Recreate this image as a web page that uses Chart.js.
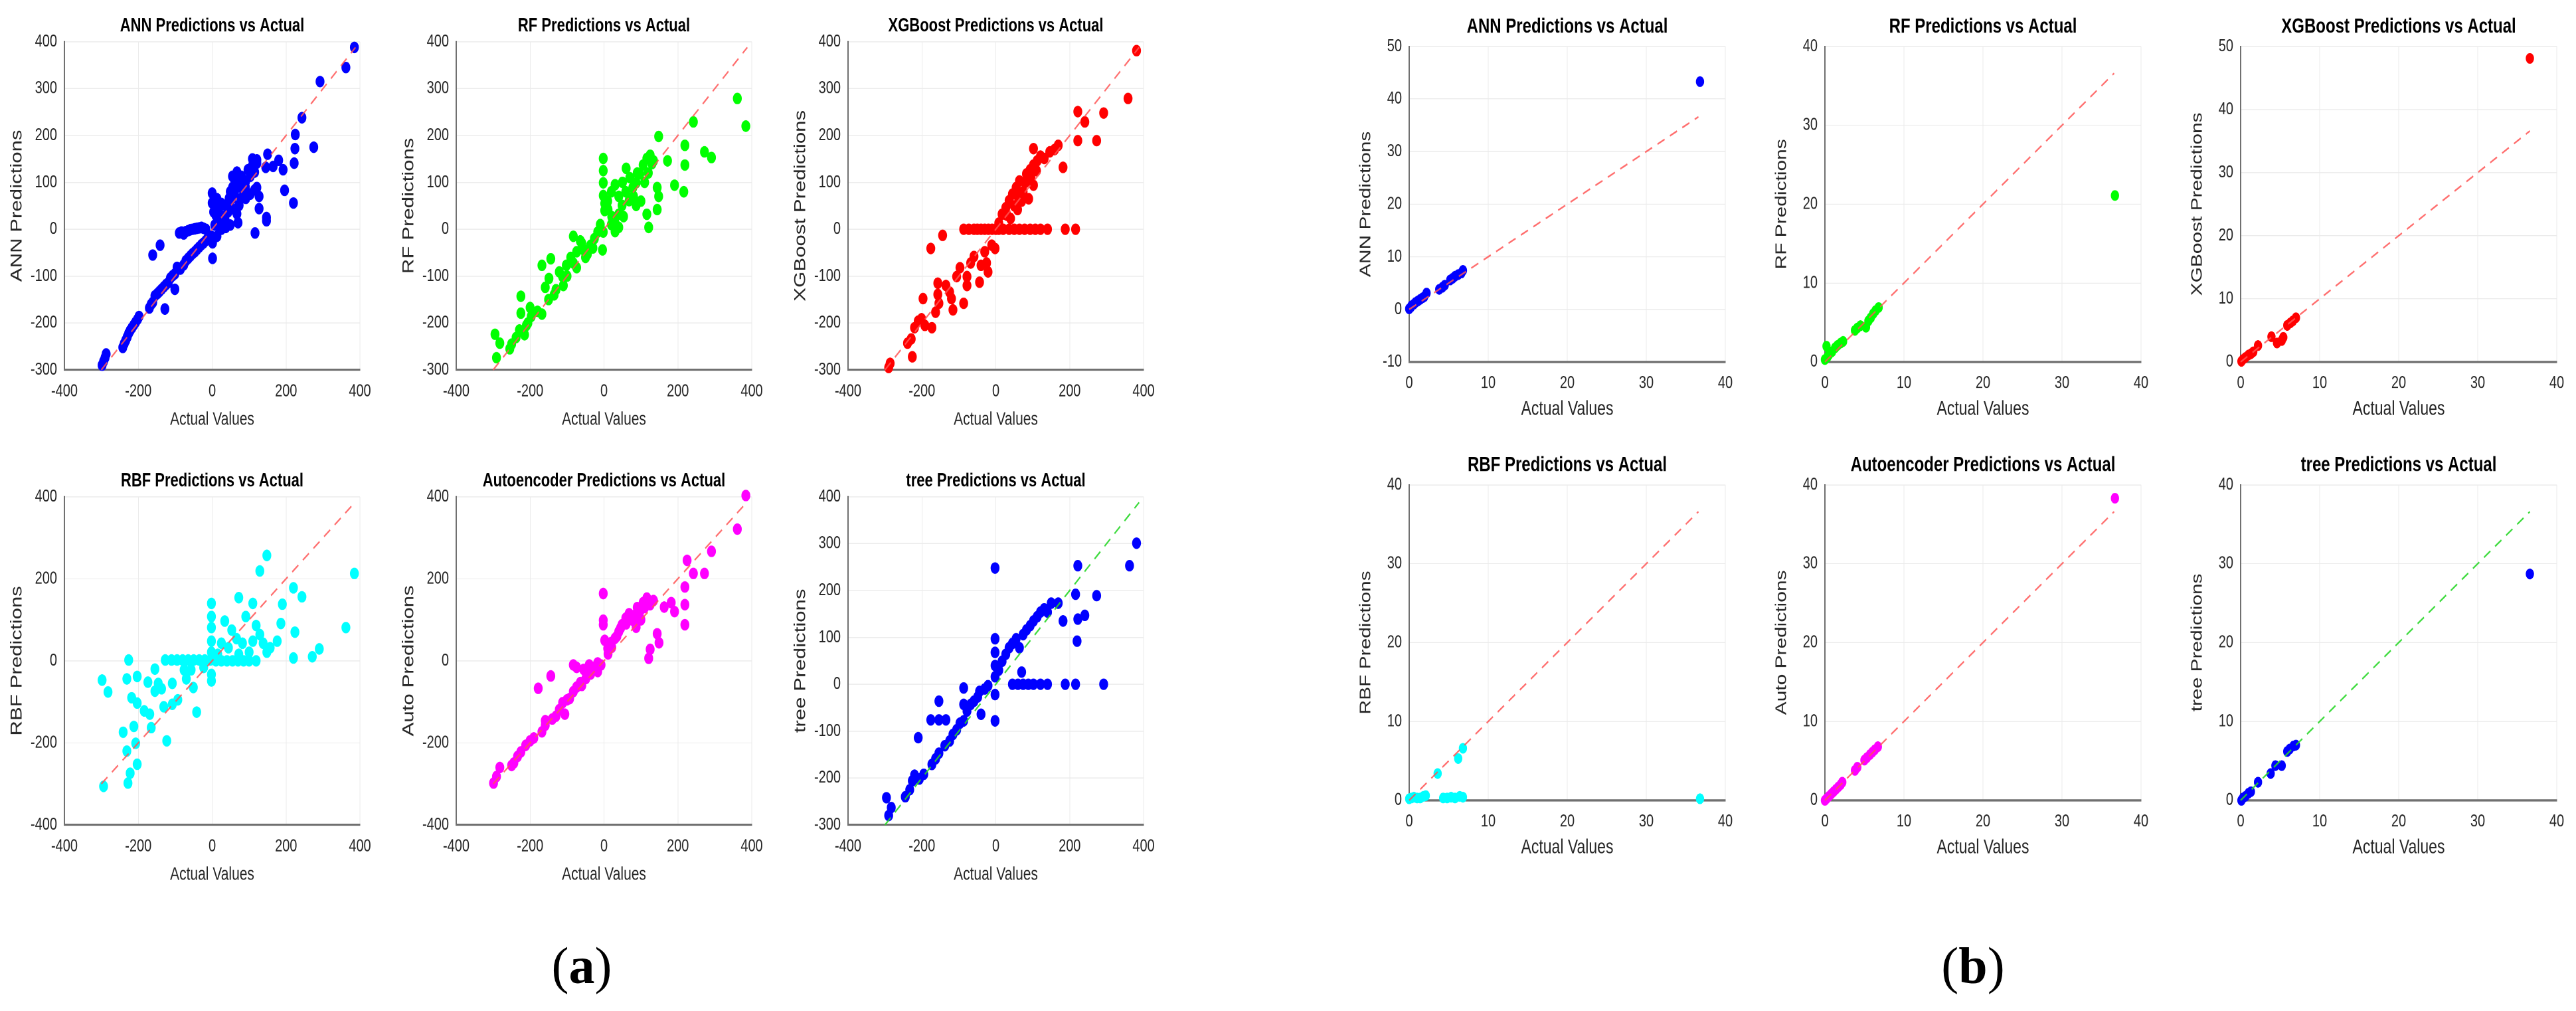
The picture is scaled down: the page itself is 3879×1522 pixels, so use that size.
<!DOCTYPE html>
<html>
<head>
<meta charset="utf-8">
<script src="https://cdn.jsdelivr.net/npm/chart.js@4.4.1/dist/chart.umd.min.js"></script>
<style>
  body { margin: 0; background: #fff; width: 3879px; height: 1522px; position: relative; overflow: hidden; }
  .panel { position: absolute; transform-origin: 0 0; transform: scaleY(1.3); }
  .panel canvas { display: block; }
  .tag { position: absolute; font-family: "Liberation Serif", "Times New Roman", serif; font-size: 78px; line-height: 1; transform: translateX(-50%); color: #000; }
</style>
</head>
<body>
<div class="tag" style="left:876px;top:1415px">(<b>a</b>)</div>
<div class="tag" style="left:2971px;top:1415px">(<b>b</b>)</div>
<script>
// Data (a) ====================================================
const annA = [[-298,-290],[-294,-282],[-290,-274],[-287,-266],
  [-242,-252],[-238,-244],[-234,-237],[-230,-230],[-226,-222],[-222,-216],[-217,-210],[-212,-204],[-207,-198],[-202,-192],[-198,-186],
  [-170,-168],[-165,-160],[-161,-156],[-155,-142],[-148,-137],[-143,-133],[-137,-128],[-131,-123],[-125,-118],[-119,-114],
  [-113,-104],[-107,-99],[-101,-95],[-95,-81],[-86,-85],[-77,-76],[-71,-67],[-65,-62],[-59,-57],[-53,-52],[-47,-48],
  [-41,-43],[-35,-38],[-29,-33],[-23,-29],[-17,-24],[-11,-19],[-5,-15],
  [-101,-128],[-128,-170],[-141,-34],[-161,-55],[1,-62],
  [-89,-8],[-83,-6],[-77,-10],[-71,-5],[-65,-3],[-59,-1],[-53,0],[-47,1],[-41,2],[-35,3],[-29,4],[-23,2],[-17,0],
  [-2,-15],[1,-29],[0,77],[0,56],[4,37],[13,65],[19,47],[19,18],[31,28],[37,51],[46,66],[49,80],[55,89],[61,103],
  [67,108],[79,99],[91,103],[103,113],[115,122],[121,141],[115,84],[103,75],[91,66],[73,51],[67,33],[70,14],[49,9],
  [37,4],[25,0],[13,-15],[7,9],[19,4],[43,37],[55,66],[61,42],[79,66],[85,84],[55,113],[67,122],[79,113],[97,127],
  [109,150],[109,136],[121,148],[127,70],[121,89],[10,30],[25,55],[35,20],[45,50],[60,75],[75,90],[90,90],
  [150,160],[145,132],[165,134],[180,147],[192,127],[127,44],[147,25],[147,18],[116,-8],
  [225,202],[224,172],[275,175],[222,141],[196,83],[220,56],
  [243,238],[292,315],[362,345],[385,388]];

const rfA = [[-295,-224],[-282,-243],[-291,-274],[-238,-231],[-229,-215],[-225,-179],[-225,-143],[-206,-200],[-197,-186],
  [-200,-167],[-168,-181],[-159,-124],[-168,-77],[-149,-105],[-144,-63],[-130,-129],[-121,-91],[-112,-101],[-102,-77],
  [-83,-72],[-74,-82],[-83,-15],[-64,-25],[-74,-48],[-45,-53],[-55,-44],[-36,-34],[-26,-20],[-17,-6],[-4,-44],[-2,-6],
  [-2,151],[-2,125],[-2,99],[-2,72],[2,55],[2,40],[11,42],[21,27],[30,13],[40,4],[49,51],[59,80],[68,61],[78,89],[87,99],
  [97,118],[106,137],[116,151],[125,158],[134,146],[144,89],[148,70],[144,42],[148,198],[121,4],[116,32],[87,51],[53,27],
  [40,32],[172,146],[191,94],[216,80],[219,137],[219,179],[242,229],[272,165],[291,153],[361,279],[384,220],
  [10,60],[20,80],[30,95],[40,70],[50,100],[70,110],[60,130],[80,70],[90,120],[100,60],[110,100],[120,120],[130,140],
  [20,10],[30,-5],[-10,10],[-30,-40],[-50,-60],[-60,-30],[-90,-60],[-100,-100],[-110,-120],[-135,-140],[-150,-150],
  [-180,-175],[-210,-205],[-215,-225],[-250,-245],[-255,-255]];

const xgbA = [[-290,-295],[-286,-286],[-239,-243],[-229,-234],[-220,-210],[-226,-272],[-210,-196],[-201,-191],[-197,-148],
  [-192,-205],[-173,-210],[-163,-177],[-157,-139],[-157,-115],[-154,-158],[-135,-120],[-125,-134],[-116,-172],[-120,-148],
  [-106,-101],[-97,-82],[-87,-158],[-78,-101],[-78,-120],[-68,-72],[-59,-58],[-44,-113],[-40,-77],[-30,-48],[-25,-72],
  [-21,-91],[-11,-34],[-2,-41],[-176,-41],[-144,-13],
  [-87,0],[-73,0],[-59,0],[-50,0],[-40,0],[-30,0],[-20,0],[-10,0],[0,0],[8,0],[20,0],[36,0],[50,0],[64,0],[78,0],[93,0],
  [107,0],[121,0],[140,0],[188,0],[216,0],
  [8,13],[17,32],[27,46],[36,61],[45,75],[55,89],[64,103],[74,80],[83,118],[93,127],[102,137],[112,146],[121,156],
  [102,94],[89,65],[59,42],[40,23],[131,151],[146,165],[159,170],[169,179],[102,172],[182,132],[222,189],[222,251],
  [241,229],[273,189],[292,248],[358,279],[381,381],[70,60],[80,100],[95,110],[60,70],[50,50],[30,30],[110,125]];

const rbfA = [[-294,-306],[-228,-298],[-222,-274],[-203,-252],[-231,-220],[-207,-201],[-241,-174],[-212,-160],[-165,-163],
  [-123,-195],[-169,-130],[-203,-103],[-184,-122],[-218,-90],[-282,-76],[-298,-47],[-231,-44],[-203,-38],[-174,-52],
  [-155,-74],[-137,-68],[-131,-112],[-108,-55],[-146,-55],[-155,-20],[-226,2],[-108,-106],[-93,-95],[-70,-44],[-51,-65],
  [-42,-125],[-76,-22],[-57,-22],[-23,-16],[-2,-33],[-2,-49],
  [-127,2],[-110,2],[-95,2],[-80,2],[-65,2],[-50,2],[-35,2],[-20,2],[-5,2],[10,0],[25,0],[40,0],[55,0],[70,0],[85,0],
  [100,0],[119,0],
  [-2,140],[-2,108],[-2,81],[-2,48],[-2,21],
  [34,97],[53,75],[66,54],[82,43],[91,108],[110,140],[119,86],[129,64],[138,43],[100,21],[72,16],[44,32],[25,43],[15,16],
  [110,48],[148,21],[157,32],[72,154],[148,257],[129,219],[190,138],[186,91],[220,178],[243,156],[224,70],[176,48],
  [220,7],[271,10],[290,29],[362,81],[385,213]];

const autoA = [[-299,-298],[-291,-282],[-282,-260],[-244,-249],[-234,-233],[-225,-222],[-212,-206],[-200,-195],
  [-168,-173],[-159,-157],[-159,-146],[-130,-135],[-121,-119],[-106,-130],[-112,-102],[-93,-92],[-83,-75],[-74,-64],
  [-178,-67],[-144,-37],[-64,-53],[-49,-43],[-36,-32],[-26,-16],[-17,-26],[-8,-10],[-83,-10],[-74,-16],[-55,-21],
  [-40,-10],[-17,-5],[-2,164],[-2,99],[-2,88],[2,50],[11,17],[21,33],[30,55],[40,71],[49,88],[59,104],[68,115],[78,99],
  [87,82],[97,120],[106,142],[116,153],[125,137],[134,147],[144,66],[149,44],[125,28],[121,6],[163,131],[182,142],
  [191,120],[219,137],[219,88],[219,180],[242,213],[272,213],[225,245],[291,267],[361,321],[384,403],
  [-250,-255],[-190,-188],[-140,-142],[-100,-95],[-60,-60],[10,30],[20,45],[35,60],[45,80],[60,90],[80,110],[90,130],
  [100,100],[110,130]];

const treeA = [[-290,-280],[-283,-263],[-296,-242],[-245,-240],[-233,-225],[-226,-206],[-220,-194],[-207,-202],[-195,-192],
  [-173,-171],[-163,-159],[-154,-147],[-138,-131],[-125,-121],[-116,-107],[-106,-97],[-97,-83],[-210,-114],[-176,-76],
  [-154,-76],[-135,-76],[-154,-36],[-87,-78],[-78,-57],[-68,-43],[-87,-43],[-59,-36],[-49,-27],[-40,-64],[-44,-15],
  [-30,-10],[-21,-3],[-87,-8],[-2,-22],[-2,-78],[-2,16],[-2,40],[-2,68],[-2,97],[-2,248],
  [8,30],[17,49],[27,64],[36,78],[45,87],[55,97],[64,78],[70,26],[74,106],[83,116],[93,125],[102,135],[112,144],[121,154],
  [131,161],[140,154],[150,173],[169,173],[182,135],[216,192],[222,253],[222,139],[241,147],[220,92],[273,189],[362,253],
  [381,301],[45,0],[60,0],[74,0],[88,0],[102,0],[121,0],[140,0],[188,0],[216,0],[292,0]];

// Data (b) ====================================================
const annB = [[0,0.1],[0.2,0.4],[0.3,0.7],[0.6,1.0],[0.8,1.3],[1.1,1.6],[1.4,1.9],[1.7,2.2],[1.9,2.4],[2.2,3.1],
  [3.8,3.8],[4.2,4.2],[4.5,4.6],[5.2,5.6],[5.5,5.9],[5.8,6.3],[6.2,6.6],[6.6,6.9],[6.8,7.4],[36.8,43.3]];
const rfB = [[0,0.3],[0.2,2.0],[0.3,0.6],[0.5,0.9],[0.9,1.3],[1.3,1.8],[1.6,2.1],[2.0,2.4],[2.3,2.6],[3.8,4.0],
  [4.1,4.3],[4.5,4.6],[5.2,4.4],[5.5,5.2],[5.8,5.6],[6.1,6.1],[6.4,6.5],[6.8,6.9],[36.7,21.1]];
const xgbB = [[0.1,0.1],[0.3,0.4],[0.6,0.7],[1.0,1.1],[1.3,1.3],[1.6,1.6],[2.2,2.6],[3.9,4.0],[4.6,3.0],[5.2,3.4],
  [5.4,3.9],[5.9,5.8],[6.3,6.2],[6.6,6.5],[7.0,7.0],[36.6,48.1]];
const rbfB = [[0,0.2],[0.3,0.3],[0.6,0.4],[1.0,0.3],[1.4,0.3],[1.8,0.5],[2.1,0.6],[3.6,3.4],[4.3,0.3],[4.8,0.3],
  [5.3,0.4],[5.8,0.3],[6.2,5.3],[6.4,0.5],[6.8,6.6],[6.8,0.4],[36.8,0.2]];
const autoB = [[0,0.0],[0.2,0.2],[0.5,0.5],[0.8,0.8],[1.1,1.1],[1.4,1.4],[1.7,1.7],[2.0,2.0],[2.2,2.3],[3.8,3.8],
  [4.1,4.2],[5.0,5.1],[5.3,5.4],[5.7,5.8],[6.0,6.1],[6.3,6.4],[6.7,6.8],[36.7,38.3]];
const treeB = [[0.1,0.0],[0.3,0.3],[0.6,0.5],[1.0,0.9],[1.3,1.1],[2.2,2.3],[3.8,3.4],[4.4,4.4],[5.2,4.4],[5.9,6.2],
  [6.2,6.5],[6.7,6.9],[7.0,7.0],[36.6,28.7]];

// Labels, colours and axis ranges =============================
const models = ["ANN", "RF", "XGBoost", "RBF", "Autoencoder", "tree"];
const yNames = ["ANN", "RF", "XGBoost", "RBF", "Auto", "tree"];
const colors = ["#0000ff", "#00ff00", "#ff0000", "#00ffff", "#ff00ff", "#0000ff"];
const lineColors = ["rgba(255,85,85,0.85)", "rgba(255,85,85,0.85)", "rgba(255,85,85,0.85)",
  "rgba(255,85,85,0.85)", "rgba(255,85,85,0.85)", "rgba(40,215,40,0.9)"];
const xRangeA = [-400, 400, 200];
const yRangesA = [[-300, 400, 100], [-300, 400, 100], [-300, 400, 100], [-400, 400, 200], [-400, 400, 200], [-300, 400, 100]];
const diagA = [-300, 388];
const xRangeB = [0, 40, 10];
const yRangesB = [[-10, 50, 10], [0, 40, 10], [0, 50, 10], [0, 40, 10], [0, 40, 10], [0, 40, 10]];
const diagB = [0, 36.6];

const pointsA = [annA, rfA, xgbA, rbfA, autoA, treeA];
const pointsB = [annB, rfB, xgbB, rbfB, autoB, treeB];

// Layout ======================================================
const STRETCH = 1.3; // the original figure is stretched vertically
const FONT = "'Liberation Sans', Arial, sans-serif";

const geoA = { yw: 97, plotW: 445, pr: 30, plotH: 380, tSize: 22, tPad: 5, xh: 70.6, tick: 20, xt: 21, yt: 24, ytPad: 11.6,
  xTickPad: 13, r: 6.7, lefts: [0, 590, 1180], plotTops: [63, 748] };
const geoB = { yw: 90, plotW: 476, pr: 29, plotH: 365.4, tSize: 24, tPad: 8, xh: 68.8, tick: 20, xt: 23, yt: 23, ytPad: 11.2,
  xTickPad: 13, r: 6.2, lefts: [2032, 2658, 3284], plotTops: [70, 730] };

function makePanel(g, i, pts, xr, yr, diag) {
  const head = g.tSize * 1.2 + g.tPad;
  const w = g.yw + g.plotW + g.pr;
  const h = Math.round(head + g.plotH + g.xh);
  const wrap = document.createElement("div");
  wrap.className = "panel";
  wrap.style.left = g.lefts[i % 3] + "px";
  wrap.style.top = (g.plotTops[Math.floor(i / 3)] - STRETCH * head) + "px";
  const canvas = document.createElement("canvas");
  canvas.width = w;
  canvas.height = h;
  wrap.appendChild(canvas);
  document.body.appendChild(wrap);

  new Chart(canvas, {
    type: "scatter",
    data: {
      datasets: [
        {
          type: "line",
          data: [{ x: diag[0], y: diag[0] }, { x: diag[1], y: diag[1] }],
          borderColor: lineColors[i],
          borderWidth: 2,
          borderDash: [12, 9],
          pointRadius: 0,
          fill: false,
          clip: false,
          order: 0,
        },
        {
          data: pts.map(([x, y]) => ({ x, y })),
          backgroundColor: colors[i],
          borderWidth: 0,
          pointRadius: g.r,
          pointHoverRadius: g.r,
          clip: false,
          order: 1,
        },
      ],
    },
    options: {
      responsive: false,
      animation: false,
      devicePixelRatio: 2,
      layout: { padding: { top: 0, left: 0, right: g.pr, bottom: 0 } },
      plugins: {
        legend: { display: false },
        tooltip: { enabled: false },
        title: {
          display: true,
          fullSize: false,
          text: models[i] + " Predictions vs Actual",
          color: "#000",
          font: { family: FONT, size: g.tSize, weight: "bold" },
          padding: { top: 0, bottom: g.tPad },
        },
      },
      scales: {
        x: {
          type: "linear",
          min: xr[0],
          max: xr[1],
          ticks: { stepSize: xr[2], color: "#262626", padding: g.xTickPad, font: { family: FONT, size: g.tick } },
          grid: { color: "#ebebeb", lineWidth: 1, drawTicks: false },
          border: { color: "#707070", width: 2.5 },
          title: {
            display: true,
            text: "Actual Values",
            color: "#262626",
            font: { family: FONT, size: g.xt },
            padding: { top: 0, bottom: 0 },
          },
          afterFit(scale) { scale.height = g.xh; },
        },
        y: {
          type: "linear",
          min: yr[0],
          max: yr[1],
          ticks: { stepSize: yr[2], color: "#262626", padding: 11, font: { family: FONT, size: g.tick } },
          grid: { color: "#ebebeb", lineWidth: 1, drawTicks: false },
          border: { color: "#707070", width: 2 },
          title: {
            display: true,
            text: yNames[i] + " Predictions",
            color: "#262626",
            font: { family: FONT, size: g.yt },
            padding: { top: g.ytPad, bottom: 0 },
          },
          afterFit(scale) { scale.width = g.yw; },
        },
      },
    },
  });
}

// render all twelve panels ====================================
for (let i = 0; i < 6; i++) {
  makePanel(geoA, i, pointsA[i], xRangeA, yRangesA[i], diagA);
  makePanel(geoB, i, pointsB[i], xRangeB, yRangesB[i], diagB);
}
</script>
</body>
</html>
